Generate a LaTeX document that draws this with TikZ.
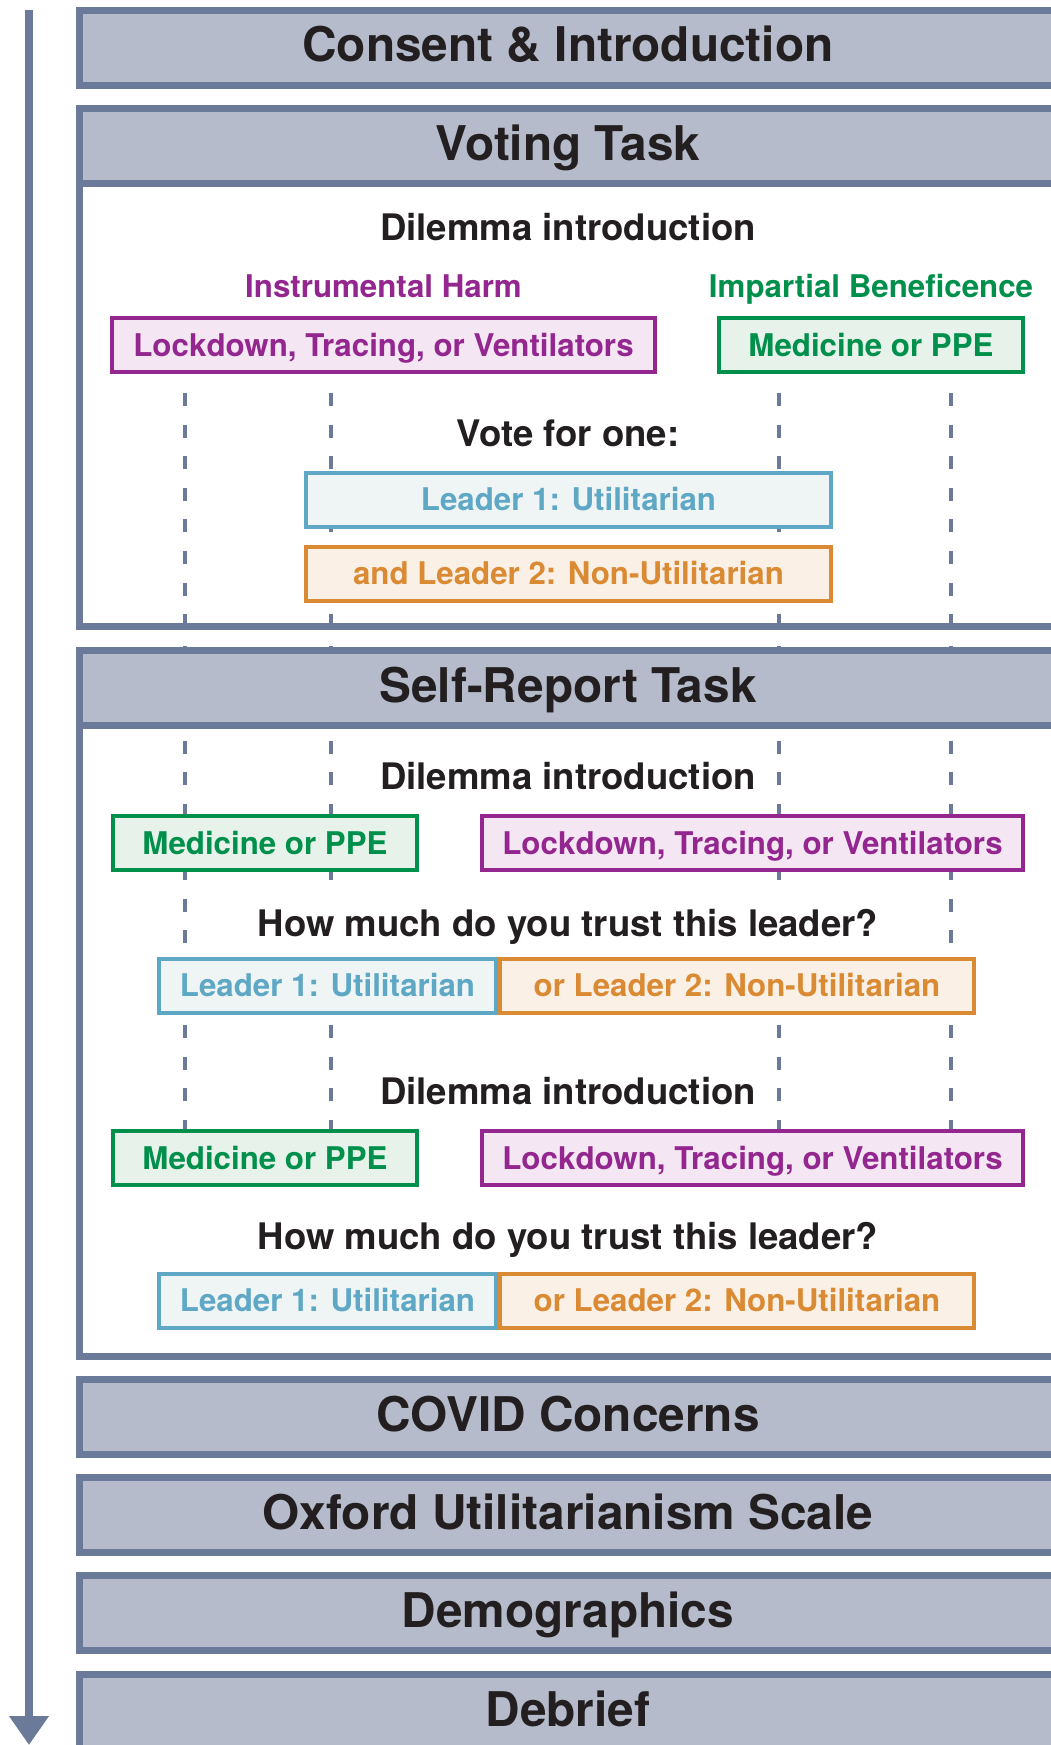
\documentclass[tikz,border=0pt]{standalone}
\usepackage{fontspec}
\setmainfont{TeX Gyre Heros}
\usetikzlibrary{arrows.meta}
\definecolor{slate}{RGB}{107,122,153}
\definecolor{headfill}{RGB}{181,187,203}
\definecolor{ink}{RGB}{35,31,32}
\definecolor{harm}{RGB}{147,39,143}
\definecolor{harmfill}{RGB}{244,230,242}
\definecolor{benef}{RGB}{0,144,76}
\definecolor{beneffill}{RGB}{231,243,234}
\definecolor{util}{RGB}{94,167,197}
\definecolor{utilfill}{RGB}{238,245,244}
\definecolor{nonut}{RGB}{219,138,52}
\definecolor{nonutfill}{RGB}{250,240,230}

\begin{document}
\begin{tikzpicture}[
  stage/.style={draw=slate, line width=0.07cm, fill=headfill, minimum width=9.77cm, minimum height=0.75cm, inner sep=0, text=ink, text height=9.8pt, text depth=1.6pt, font=\fontsize{13.6}{16}\selectfont\bfseries},
  panel/.style={draw=slate, line width=0.07cm, fill=white},
  guide/.style={slate, line width=0.04cm, dash pattern=on 0.13cm off 0.186cm},
  ask/.style={fill=white, inner xsep=0.1cm, inner ysep=0.25cm, text=ink, text height=7.5pt, text depth=0pt, font=\fontsize{10.4}{12}\selectfont\bfseries},
  kind/.style={inner sep=0, text height=6.4pt, text depth=0pt, font=\fontsize{8.9}{11}\selectfont\bfseries},
  opt/.style={line width=0.04cm, minimum height=0.54cm, inner sep=0, text height=6.4pt, text depth=0pt, font=\fontsize{8.9}{11}\selectfont\bfseries},
  ih/.style={opt, draw=harm, fill=harmfill, text=harm},
  ib/.style={opt, draw=benef, fill=beneffill, text=benef},
  lu/.style={opt, draw=util, fill=utilfill, text=util},
  ln/.style={opt, draw=nonut, fill=nonutfill, text=nonut},
]
\useasboundingbox (0,0) rectangle (10.51,-17.45);
\clip (0,0) rectangle (10.51,-17.45);

% Timeline
\coordinate (top) at (0.29,-0.10);
\coordinate (bottom) at (0.29,-17.45);
\draw[slate, line width=0.08cm, -{Triangle[width=0.38cm,length=0.29cm]}] (top) -- (bottom);

% Task panels
\draw[panel] (0.795,-1.46) rectangle (10.565,-6.265);
\draw[panel] (0.795,-6.88) rectangle (10.565,-13.565);

% Guide lines
\foreach \x in {1.85,3.31,7.79,9.51}
  \draw[guide] (\x,-3.93) -- (\x,-11.40);

% Stages
\node[stage] (consent) at (5.68,-0.475) {Consent \& Introduction};
\node[stage] (voting) at (5.68,-1.46) {Voting Task};
\node[stage] (selfrep) at (5.68,-6.88) {Self-Report Task};
\node[stage] (covid) at (5.68,-14.17) {COVID Concerns};
\node[stage] (oxford) at (5.68,-15.15) {Oxford Utilitarianism Scale};
\node[stage] (demo) at (5.68,-16.13) {Demographics};
\node[stage] (debrief) at (5.68,-17.12) {Debrief};

% Voting task
\node[ask] (dil1) at (5.68,-2.27) {Dilemma introduction};
\node[kind, text=harm] (harmlab) at (3.835,-2.86) {Instrumental Harm};
\node[kind, text=benef] (beneflab) at (8.71,-2.86) {Impartial Beneficence};
\node[ih, minimum width=5.43cm] (harm1) at (3.835,-3.45) {Lockdown, Tracing, or Ventilators};
\node[ib, minimum width=3.04cm] (benef1) at (8.71,-3.45) {Medicine or PPE};
\node[ask] (vote) at (5.68,-4.33) {Vote for one:};
\node[lu, minimum width=5.25cm] (util1) at (5.685,-4.995) {Leader 1: Utilitarian};
\node[ln, minimum width=5.25cm] (nonut1) at (5.685,-5.735) {and Leader 2: Non-Utilitarian};

% Self-report task
\node[ask] (dil2) at (5.68,-7.76) {Dilemma introduction};
\node[ib, minimum width=3.04cm] (benef2) at (2.65,-8.43) {Medicine or PPE};
\node[ih, minimum width=5.41cm] (harm2) at (7.525,-8.43) {Lockdown, Tracing, or Ventilators};
\node[ask] (trust1) at (5.68,-9.23) {How much do you trust this leader?};
\node[lu, minimum width=3.37cm] (util2) at (3.275,-9.855) {Leader 1: Utilitarian};
\node[ln, minimum width=4.74cm] (nonut2) at (7.37,-9.855) {or Leader 2: Non-Utilitarian};
\node[ask] (dil3) at (5.68,-10.91) {Dilemma introduction};
\node[ib, minimum width=3.04cm] (benef3) at (2.65,-11.58) {Medicine or PPE};
\node[ih, minimum width=5.41cm] (harm3) at (7.525,-11.58) {Lockdown, Tracing, or Ventilators};
\node[ask] (trust2) at (5.68,-12.36) {How much do you trust this leader?};
\node[lu, minimum width=3.37cm] (util3) at (3.275,-13.005) {Leader 1: Utilitarian};
\node[ln, minimum width=4.74cm] (nonut3) at (7.37,-13.005) {or Leader 2: Non-Utilitarian};
\end{tikzpicture}
\end{document}
